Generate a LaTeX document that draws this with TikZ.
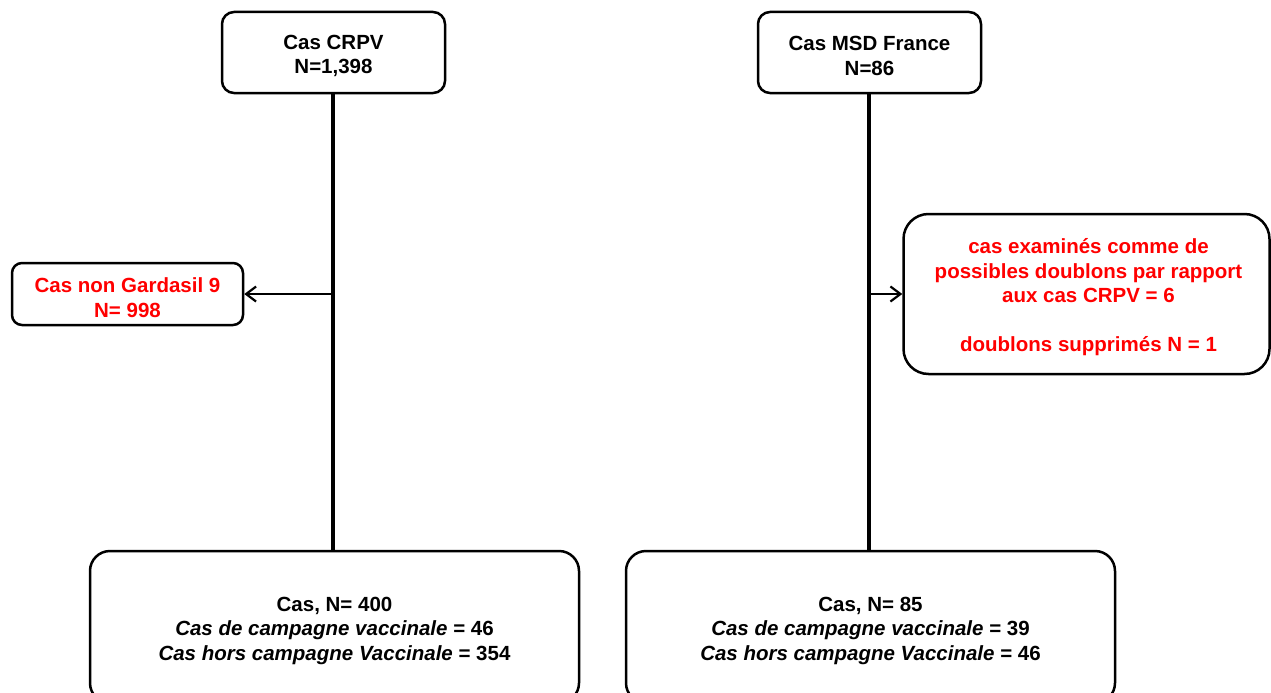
\documentclass[tikz,border=0pt]{standalone}
\usepackage{fontspec}
\setmainfont{Liberation Sans}
\usetikzlibrary{arrows.meta}
\begin{document}
\begin{tikzpicture}[x=1pt,y=-1pt,
  box/.style={draw=black,line width=2.5pt,rounded corners=12pt,fill=white,inner sep=0pt},
  txt/.style={align=center,font=\fontsize{20.5}{24.5}\selectfont\bfseries,inner sep=0pt,yshift=-3.5pt},
  redtext/.style={text=red},
  trunk/.style={line width=4pt},
  branch/.style={line width=2.2pt,-{Straight Barb[length=10pt,width=15pt,line width=2.2pt]}}]
\useasboundingbox (0,0) rectangle (1271,693);
\node[box,minimum width=223pt,minimum height=81pt] (crpv) at (333.5,52.5) {};
\node[txt] (crpvt) at (crpv.center) {Cas CRPV\\N=1,398};
\node[box,minimum width=223pt,minimum height=81pt] (msd) at (869.5,52.5) {};
\node[txt] (msdt) at (msd.center) {Cas MSD France\\N=86};
\node[box,minimum width=231pt,minimum height=62pt,rounded corners=10pt] (gard) at (127.5,294) {};
\node[txt,redtext] (gardt) at (gard.center) {Cas non Gardasil 9\\N= 998};
\node[box,minimum width=366pt,minimum height=160pt,rounded corners=25pt] (doub) at (1086.5,294) {};
\node[txt,redtext] (doubt) at ([xshift=2pt]doub.center)
  {cas examinés comme  de\\possibles doublons par rapport\\aux cas CRPV = 6\\[24.5pt]doublons supprimés N = 1};
\node[box,minimum width=489pt,minimum height=152pt,rounded corners=20pt] (left) at (334.5,627) {};
\node[txt] (leftt) at (left.center)
  {Cas, N= 400\\\textit{Cas de campagne vaccinale} = 46\\\textit{Cas hors campagne Vaccinale} = 354};
\node[box,minimum width=489pt,minimum height=152pt,rounded corners=20pt] (right) at (870.5,627) {};
\node[txt] (rightt) at (right.center)
  {Cas, N= 85\\\textit{Cas de campagne vaccinale} = 39\\\textit{Cas hors campagne Vaccinale} = 46};
\draw[trunk] (crpv.south -| 333,0) -- (left.north -| 333,0);
\draw[trunk] (msd.south -| 869,0) -- (right.north -| 869,0);
\coordinate (jl) at (333,294);
\coordinate (jr) at (869,294);
\draw[branch] (jl) -- (gard.east);
\draw[branch] (jr) -- (doub.west);
\end{tikzpicture}
\end{document}
